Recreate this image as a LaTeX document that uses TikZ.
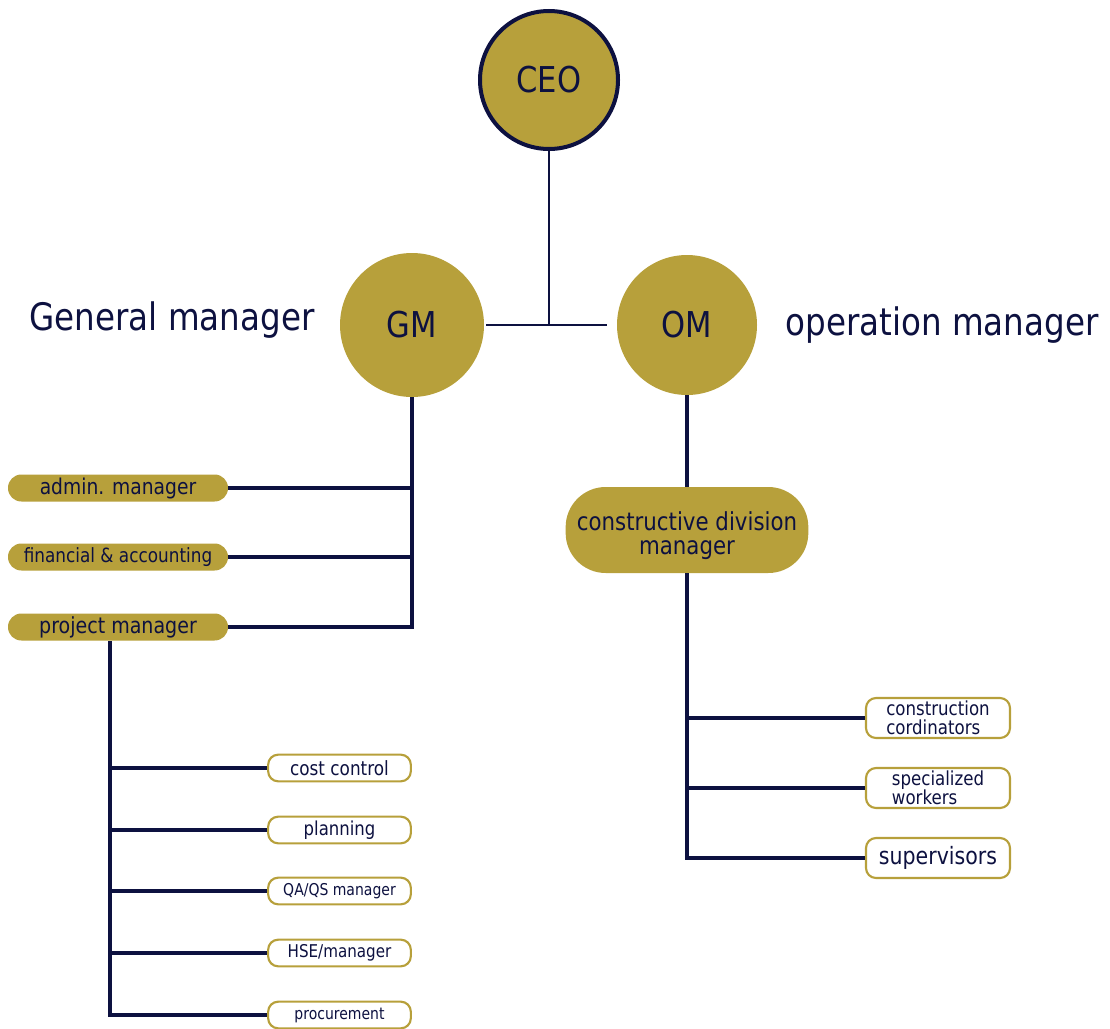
\documentclass[tikz,border=0pt]{standalone}
\usepackage{fontspec}
\setmainfont{DejaVu Sans}[FakeStretch=0.86]
\usepackage{xcolor}
\definecolor{gold}{RGB}{183,160,59}
\definecolor{navy}{RGB}{13,17,64}
\tikzset{
  boss/.style={circle,fill=gold,text=navy,inner sep=0pt,font=\fontsize{26.7}{30}\selectfont},
  pill/.style={rectangle,rounded corners=10pt,fill=gold,text=navy,minimum width=165pt,minimum height=20.25pt,inner sep=0pt},
  smallbox/.style={rectangle,rounded corners=7.5pt,draw=gold,line width=1.6pt,fill=white,text=navy,minimum width=107pt,minimum height=20pt,inner sep=0pt},
  tallbox/.style={smallbox,minimum width=108pt,minimum height=30pt,align=left,font=\fontsize{14.5}{14.5}\selectfont},
  linkthin/.style={draw=navy,line width=1.5pt},
  linkthick/.style={draw=navy,line width=3.5pt}
}
\begin{document}
\begin{tikzpicture}[x=0.75pt,y=-0.75pt]
            \useasboundingbox (0,0) rectangle (1110,1028);
            \node[boss,draw=navy,line width=3pt,minimum size=103.5pt] (ceo) at (549,80) {CEO};
            \node[boss,minimum size=108pt] (gm) at (412,325) {GM};
            \node[boss,minimum size=105pt] (om) at (687,325) {OM};
            \node[text=navy,font=\fontsize{28.4}{32}\selectfont] (gmlabel) at (172,320) {General manager};
            \node[text=navy,font=\fontsize{28.4}{32}\selectfont] (omlabel) at (942,325) {operation manager};
            \draw[linkthin] (ceo.south) -- (ceo.south |- gm.east);
            \draw[linkthin] ([xshift=1.5pt]gm.east) -- ([xshift=-7pt]om.west);
            \node[pill,font=\fontsize{16.3}{18}\selectfont] (admin) at (118,488) {admin. manager};
            \node[pill,font=\fontsize{14.7}{17}\selectfont] (fin) at (118,557) {financial \& accounting};
            \node[pill,font=\fontsize{16.6}{18}\selectfont] (pm) at (118,627) {project manager};
            \draw[linkthick] (gm.south) -- (gm.south |- pm.east) -- (pm.east);
            \draw[linkthick] (admin.east) -- (admin.east -| gm.south);
            \draw[linkthick] (fin.east) -- (fin.east -| gm.south);
            \foreach \n/\y/\s/\t in {cost/768/14.7/{cost control}, plan/830/14.4/{planning},
                qa/891/12.2/{QA/QS manager}, hse/953/13.2/{HSE/manager}, proc/1015/12.2/{procurement}}
            \node[smallbox,font=\fontsize{\s}{\s}\selectfont] (\n) at (339.5,\y) {\t};
            \coordinate (pmtrunk) at ([xshift=-6pt]pm.south);
            \draw[linkthick] (pmtrunk) -- (pmtrunk |- proc.west) -- (proc.west);
            \foreach \b in {cost,plan,qa,hse}
            \draw[linkthick] (pmtrunk |- \b.west) -- (\b.west);
            \node[pill,rounded corners=30pt,minimum width=182pt,minimum height=64.5pt,align=center,
                font=\fontsize{18.6}{18}\selectfont] (cdm) at (687,530) {\rule{0pt}{23pt}constructive division\\manager};
            \draw[linkthick] (om.south) -- (om.south |- cdm.north);
            \node[tallbox] (cc) at (938,718) {construction\\cordinators};
            \node[tallbox] (sw) at (938,788) {specialized\\workers};
            \node[tallbox,font=\fontsize{17.9}{20}\selectfont] (sup) at (938,858) {supervisors};
            \draw[linkthick] (cdm.south) -- (cdm.south |- sup.west) -- (sup.west);
            \foreach \b in {cc,sw}
            \draw[linkthick] (cdm.south |- \b.west) -- (\b.west);
        \end{tikzpicture}
\end{document}
